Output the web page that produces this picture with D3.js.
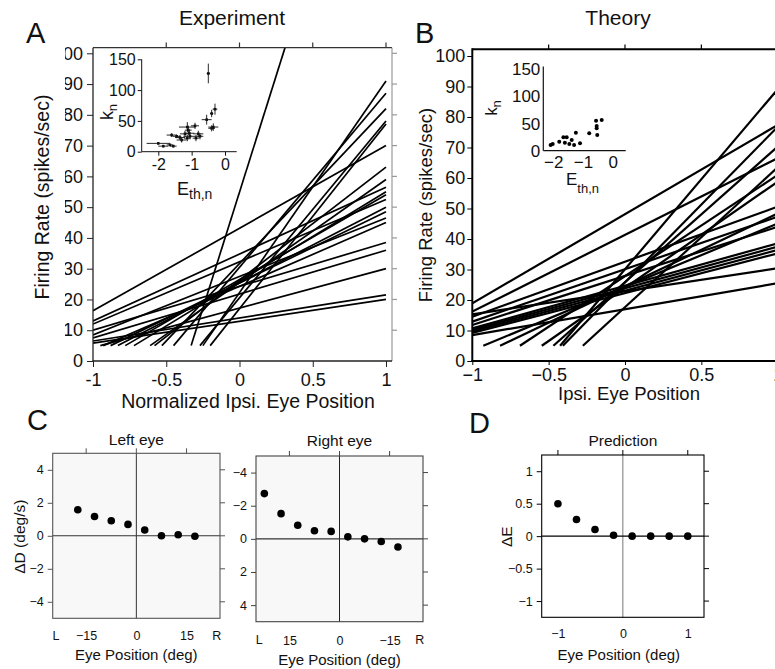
<!DOCTYPE html>
<html><head><meta charset="utf-8">
<script src="https://cdn.jsdelivr.net/npm/d3@7"></script>
<style>body{margin:0;background:#fff} svg{display:block}</style>
</head><body><svg id="c" width="775" height="669"></svg>
<script>
// ---------- DATA ----------
// Panel A (Experiment): each line starts at (x0,y0) and runs to x = 1 with rate y1
const expX0 = [-1,-1,-1,-1,-1,-1,-1,-1,-0.95,-0.93,-0.88,-0.83,-0.78,-0.72,-0.61,-0.58,-0.53,-0.45,-0.33,-0.27,-0.25,-0.20];
const expY0 = [16.3,13.0,12.0,10.0,8.5,7.5,6.5,5.8,5,5,5,5,5,5,5,5,5,5,5,5,5,5];
const expY1 = [70,56.5,52.5,38.5,46.5,36,21.5,20,30,45,48.5,50,54,55,59,63,82,87,206,78,91,77];
// Panel A inset: k_n vs E_th,n with error bars
const insAx  = [-0.5,-0.3,-0.4,-0.55,-0.35,-0.4,-0.9,-1.13,-1.1,-1.07,-0.8,-0.75,-0.87,-1.13,-1.35,-1.45,-1.6,-1.3,-2.0,-1.85,-1.65,-1.55,-1.05,-1.2];
const insAy  = [127,69,62,52,40,38,42,40,35,30,29,25,22,22,23,25,27,19,13.5,9,11,9,25,29];
const insAxe = [0.05,0.07,0.05,0.15,0.15,0.1,0.12,0.25,0.1,0.15,0.15,0.1,0.1,0.1,0.15,0.12,0.15,0.15,0.35,0.15,0.1,0.1,0.2,0.15];
const insAye = [16,9,6,8,6,5,5,8,7,5,5,5,5,5,4,3,3,4,2,2,2,2,5,5];
// Panel B (Theory)
const thX0 = [-1,-1,-1,-1,-1,-1,-1,-1,-1,-1,-1,-0.928,-0.818,-0.688,-0.545,-0.469,-0.425,-0.407,-0.276];
const thY0 = [18.9,16.2,15.3,14.5,12.9,11.8,10.7,10.2,9.7,9.2,8.5,5,5,5,5,5,5,5,5];
const thY1 = [77.4,66.5,30.4,50.6,47.3,44.0,38.6,37.5,36.4,35.3,25.5,45.1,48.4,61.0,58.8,70.3,89.1,76.8,63.5];
// Panel B inset
const insBx = [-2.09,-2.02,-1.80,-1.66,-1.61,-1.55,-1.46,-1.38,-1.30,-1.24,-1.10,-0.79,-0.56,-0.54,-0.54,-0.52,-0.37];
const insBy = [10.4,12.3,16.6,24.6,14.8,24.6,12.3,19.7,10.4,33.2,13.5,32,55,41.2,45.5,28.9,56.5];
// Panel C
const leftEyeX  = [-17.5,-12.5,-7.5,-2.5,2.5,7.5,12.5,17.5];
const leftEyeY  = [1.58,1.17,0.91,0.69,0.35,0.0,0.06,-0.03];
const rightEyeX = [22.5,17.5,12.5,7.5,2.5,-2.5,-7.5,-12.5,-17.5];
const rightEyeY = [-2.73,-1.52,-0.82,-0.49,-0.45,-0.12,0.0,0.16,0.49];
// Panel D
const predX = [-1,-0.714,-0.429,-0.143,0.143,0.429,0.714,1];
const predY = [0.5,0.257,0.103,0.015,0,0,0,0];
// Tick labels
const rateTicks = [0,10,20,30,40,50,60,70,80,90,100];
const posTicks = [-1,-0.5,0,0.5,1];
const kTicks = [0,50,100,150];
const eTicks = [-2,-1,0];
const degTicks = [-4,-2,0,2,4];
const eyeTicks = [-15,0,15];
const predTicks = [-1,-0.5,0,0.5,1];
const predXTicks = [-1,0,1];

// ---------- DRAW ----------
const FONT = "'Liberation Sans', Arial, Helvetica, sans-serif";
const svg = d3.select("#c").attr("font-family", FONT);
svg.append("rect").attr("width",775).attr("height",669).attr("fill","#fff");
const defs = svg.append("defs");
const minus = d => (d < 0 ? "\u2212" + String(-d) : String(d));

function txt(x, y, s, size, anchor, rot, fill) {
  const t = svg.append("text").attr("font-size", size).attr("text-anchor", anchor || "middle")
    .attr("fill", fill || "#111");
  if (rot) t.attr("transform", `translate(${x},${y}) rotate(${rot})`);
  else t.attr("x", x).attr("y", y);
  t.text(s);
  return t;
}
function styleAxis(g, size, col) {
  g.attr("font-family", FONT).attr("font-size", size);
  g.select(".domain").remove();
  g.selectAll(".tick line").attr("stroke", col);
  g.selectAll(".tick text").attr("fill", "#111");
}
function line(x1,y1,x2,y2,col,w){
  svg.append("line").attr("x1",x1).attr("y1",y1).attr("x2",x2).attr("y2",y2)
    .attr("stroke",col).attr("stroke-width",w);
}

// ===== Panel A =====
const ax = d3.scaleLinear([-1,1],[93,386]);
const ay = d3.scaleLinear([0,100],[361,53.3]);
defs.append("clipPath").attr("id","clipA").append("rect").attr("x",93).attr("y",47.7).attr("width",299).attr("height",313.3);
svg.append("g").attr("clip-path","url(#clipA)").selectAll("line").data(d3.range(expX0.length)).join("line")
  .attr("x1",i=>ax(expX0[i])).attr("y1",i=>ay(expY0[i])).attr("x2",ax(1)).attr("y2",i=>ay(expY1[i]))
  .attr("stroke","#000").attr("stroke-width",1.7);
// frame
line(93,47.7,392,47.7,"#333",1.2);
line(392,47.7,392,361,"#999",1.2);
line(93,47.7,93,361.5,"#222",1.3);
line(92.5,361,392,361,"#222",1.3);
[-0.5,0,0.5,1].forEach(v=>line(ax(v),47.7,ax(v),42.5,"#333",1.2));
rateTicks.slice(1).forEach(v=>line(392,ay(v),397,ay(v),"#999",1.2));
defs.append("clipPath").attr("id","clipAy").append("rect").attr("x",65).attr("y",0).attr("width",40).attr("height",400);
const gyA = svg.append("g").attr("clip-path","url(#clipAy)").append("g").attr("transform","translate(93,0)")
  .call(d3.axisLeft(ay).tickValues(rateTicks).tickSize(6).tickPadding(4).tickFormat(d3.format("d")));
styleAxis(gyA,18,"#222");
const gxA = svg.append("g").attr("transform","translate(0,361)")
  .call(d3.axisBottom(ax).tickValues(posTicks).tickSize(6).tickPadding(6).tickFormat(d=>String(d)));
styleAxis(gxA,18,"#222");
txt(232,25,"Experiment",21);
txt(49,197,"Firing Rate (spikes/sec)",19.5,"middle",-90);
txt(248,408,"Normalized Ipsi. Eye Position",19.5);
txt(26,43,"A",29,"start");

// inset A
const iax = d3.scaleLinear([-2,0],[158.3,225]);
const iay = d3.scaleLinear([0,150],[151.7,59.3]);
line(141.7,59.3,141.7,151.7,"#111",1);
line(141.7,151.7,236.7,151.7,"#111",1);
const gyI = svg.append("g").attr("transform","translate(141.7,0)")
  .call(d3.axisLeft(iay).tickValues(kTicks).tickSize(4).tickPadding(2).tickFormat(d3.format("d")));
styleAxis(gyI,16,"#111");
const gxI = svg.append("g").attr("transform","translate(0,151.7)")
  .call(d3.axisBottom(iax).tickValues(eTicks).tickSize(4).tickPadding(3).tickFormat(d=>String(d)));
styleAxis(gxI,16,"#111");
const ebA = svg.append("g").attr("stroke","#111").attr("stroke-width",0.9);
d3.range(insAx.length).forEach(i=>{
  ebA.append("line").attr("x1",iax(insAx[i]-insAxe[i])).attr("x2",iax(insAx[i]+insAxe[i]))
    .attr("y1",iay(insAy[i])).attr("y2",iay(insAy[i]));
  ebA.append("line").attr("x1",iax(insAx[i])).attr("x2",iax(insAx[i]))
    .attr("y1",iay(insAy[i]-insAye[i])).attr("y2",iay(insAy[i]+insAye[i]));
  ebA.append("rect").attr("x",iax(insAx[i])-1.3).attr("y",iay(insAy[i])-1.3).attr("width",2.6).attr("height",2.6)
    .attr("fill","#111").attr("stroke","none");
});
{
  const t = svg.append("text").attr("transform","translate(113,112) rotate(-90)").attr("text-anchor","middle")
    .attr("font-size",18).attr("fill","#111");
  t.append("tspan").text("k");
  t.append("tspan").attr("dy",4).attr("font-size",13).text("n");
  const e = svg.append("text").attr("x",177).attr("y",195).attr("font-size",18).attr("fill","#111");
  e.append("tspan").text("E");
  e.append("tspan").attr("dy",4).attr("font-size",14).text("th,n");
}

// ===== Panel B =====
const bx = d3.scaleLinear([-1,1],[472.3,777.7]);
const by = d3.scaleLinear([0,100],[361,56]);
defs.append("clipPath").attr("id","clipB").append("rect").attr("x",472).attr("y",49.3).attr("width",320).attr("height",312);
svg.append("g").attr("clip-path","url(#clipB)").selectAll("line").data(d3.range(thX0.length)).join("line")
  .attr("x1",i=>bx(thX0[i])).attr("y1",i=>by(thY0[i])).attr("x2",bx(1)).attr("y2",i=>by(thY1[i]))
  .attr("stroke","#000").attr("stroke-width",2.2);
line(472.3,49.3,780,49.3,"#000",2);
line(472.3,48.3,472.3,362,"#000",2);
line(471.3,361,780,361,"#000",2);
[-0.5,0,0.5,1].forEach(v=>line(bx(v),49.3,bx(v),44.5,"#000",1.2));
const gyB = svg.append("g").attr("transform","translate(472.3,0)")
  .call(d3.axisLeft(by).tickValues(rateTicks).tickSize(5).tickPadding(2).tickFormat(d3.format("d")));
styleAxis(gyB,18,"#000");
const gxB = svg.append("g").attr("transform","translate(0,361)")
  .call(d3.axisBottom(bx).tickValues(posTicks).tickSize(4).tickPadding(3).tickFormat(minus));
styleAxis(gxB,18,"#000");
txt(618,25,"Theory",21);
txt(432,205,"Firing Rate (spikes/sec)",18.5,"middle",-90);
txt(629,400,"Ipsi. Eye Position",18.5);
txt(415,43,"B",29,"start");
// inset B
const ibx = d3.scaleLinear([-2,0],[553.3,612.7]);
const iby = d3.scaleLinear([0,150],[150.7,69.3]);
line(543.3,66.5,543.3,150.7,"#111",1.2);
line(543.3,150.7,625.7,150.7,"#111",1.2);
const gyIB = svg.append("g").attr("transform","translate(543.3,0)")
  .call(d3.axisLeft(iby).tickValues(kTicks).tickSize(0).tickPadding(3).tickFormat(d3.format("d")));
styleAxis(gyIB,17,"#111");
const gxIB = svg.append("g").attr("transform","translate(0,150.7)")
  .call(d3.axisBottom(ibx).tickValues(eTicks).tickSize(0).tickPadding(5).tickFormat(minus));
styleAxis(gxIB,17,"#111");
svg.append("g").selectAll("circle").data(d3.range(insBx.length)).join("circle")
  .attr("cx",i=>ibx(insBx[i])).attr("cy",i=>iby(insBy[i])).attr("r",2).attr("fill","#000");
{
  const t = svg.append("text").attr("transform","translate(497,108) rotate(-90)").attr("text-anchor","middle")
    .attr("font-size",17).attr("fill","#111");
  t.append("tspan").text("k");
  t.append("tspan").attr("dy",4).attr("font-size",13).text("n");
  const e = svg.append("text").attr("x",566).attr("y",185).attr("font-size",17).attr("fill","#111");
  e.append("tspan").text("E");
  e.append("tspan").attr("dy",8).attr("font-size",13).text("th,n");
}

// ===== small panels =====
function smallPanel(o){
  const sx = d3.scaleLinear(o.xDom,[o.L,o.R]);
  const sy = d3.scaleLinear(o.yDom,[o.B,o.T]);
  svg.append("rect").attr("x",o.L).attr("y",o.T).attr("width",o.R-o.L).attr("height",o.B-o.T)
    .attr("fill",o.fill).attr("stroke","none");
  line(sx(0),o.T,sx(0),o.B,o.vCol,1);
  line(o.L,sy(0),o.R,sy(0),o.hCol,1.1);
  svg.append("rect").attr("x",o.L).attr("y",o.T).attr("width",o.R-o.L).attr("height",o.B-o.T)
    .attr("fill","none").attr("stroke",o.frame).attr("stroke-width",1.1);
  const gy = svg.append("g").attr("transform",`translate(${o.L},0)`)
    .call(d3.axisLeft(sy).tickValues(o.yTicks).tickSize(5).tickPadding(4).tickFormat(minus));
  styleAxis(gy,12.5,o.frame);
  const gx = svg.append("g").attr("transform",`translate(0,${o.B})`)
    .call(d3.axisBottom(sx).tickValues(o.xTicks).tickSize(0).tickPadding(o.xPad).tickFormat(minus));
  styleAxis(gx,12.5,o.frame);
  o.xTicks.forEach(v=>line(sx(v),o.T,sx(v),o.T-5,o.frame,1));
  o.yTicks.forEach(v=>line(o.R,sy(v),o.R+5,sy(v),o.frame,1));
  svg.append("g").selectAll("circle").data(d3.range(o.xs.length)).join("circle")
    .attr("cx",i=>sx(o.xs[i])).attr("cy",i=>sy(o.ys[i])).attr("r",3.8).attr("fill","#000");
  txt((o.L+o.R)/2+(o.titleDx||0),o.titleY,o.title,15.5);
  txt((o.L+o.R)/2+(o.xlabDx||0),o.xlabY,"Eye Position (deg)",15);
  return {sx,sy};
}
const cl = smallPanel({L:52.7,R:220,T:453.3,B:618.3,xDom:[-25,25],yDom:[-5,5],fill:"#f8f8f8",
  vCol:"#333",hCol:"#333",frame:"#555",yTicks:degTicks,xTicks:eyeTicks,xPad:13,
  xs:leftEyeX,ys:leftEyeY,title:"Left eye",titleY:445,xlabY:660});
txt(cl.sx(-24),640,"L",12.5); txt(cl.sx(24),640,"R",12.5);
txt(25,536.7,"\u0394D (deg/s)",15.5,"middle",-90);
txt(27,430,"C",29,"start");
const cr = smallPanel({L:256,R:423,T:456,B:621.7,xDom:[25,-25],yDom:[5,-5],fill:"#f8f8f8",
  vCol:"#222",hCol:"#333",frame:"#444",yTicks:degTicks,xTicks:eyeTicks,xPad:14,
  xs:rightEyeX,ys:rightEyeY,title:"Right eye",titleY:446,xlabY:665});
txt(cr.sx(24),644,"L",12.5); txt(cr.sx(-24),644,"R",12.5);
const pd = smallPanel({L:541.7,R:704,T:455,B:617.3,xDom:[-1.25,1.25],yDom:[-1.25,1.25],fill:"#fff",
  vCol:"#777",hCol:"#000",frame:"#000",yTicks:predTicks,xTicks:predXTicks,xPad:12,
  xs:predX,ys:predY,title:"Prediction",titleY:446,xlabY:660,xlabDx:-4});
txt(512,536.7,"\u0394E",15.5,"middle",-90);
txt(469,433,"D",29,"start");
</script>
</body></html>
